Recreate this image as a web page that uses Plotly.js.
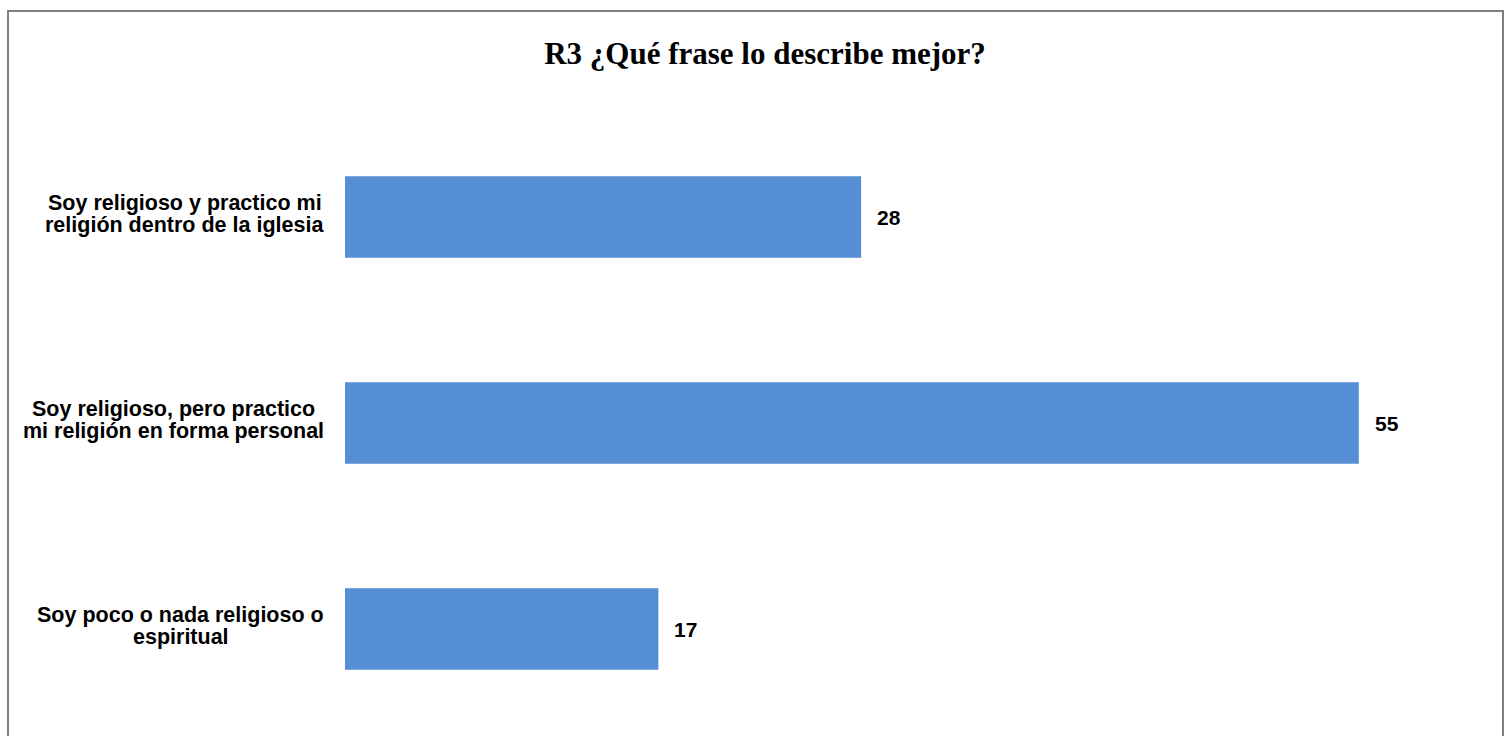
<!DOCTYPE html>
<html>
<head>
<meta charset="utf-8">
<script src="https://cdn.plot.ly/plotly-3.0.1.min.js"></script>
<style>
  html, body { margin: 0; padding: 0; background: #ffffff; }
  #wrap { position: relative; width: 1506px; height: 736px; overflow: hidden; }
  #chart { position: absolute; left: 0; top: 0; width: 1506px; height: 736px; }
  #frame { position: absolute; left: 7px; top: 10px; width: 1497px; height: 740px;
           border: 2px solid #808080; pointer-events: none; box-sizing: border-box; }
</style>
</head>
<body>
<div id="wrap">
  <div id="chart"></div>
  <div id="frame"></div>
</div>
<script>
const titleText = "R3 ¿Qué frase lo describe mejor?";
const categories = [
  "Soy religioso y practico mi<br>religión dentro de la iglesia",
  "Soy religioso, pero practico<br>mi religión en forma personal",
  "Soy poco o nada religioso o<br>espiritual"
];
const values = [28, 55, 17];
const barColor = "#558ED5";

const trace = {
  type: "bar",
  orientation: "h",
  x: values,
  y: categories,
  marker: { color: barColor, line: { width: 0 } },
  width: 0.395,
  hoverinfo: "none"
};

const labelSize = 21.5;
const labelFamily = "Liberation Sans, Arial, sans-serif";
const labelFont = { family: labelFamily, size: labelSize, color: "#000000", weight: "bold" };
const lineGap = 21.5;
const labelPad = 21;
const labelLift = 3;

const ctx = document.createElement("canvas").getContext("2d");
ctx.font = "bold " + labelSize + "px " + labelFamily;

const annotations = [];
categories.forEach((c, i) => {
  const lines = c.split("<br>");
  const w = Math.max(...lines.map(l => ctx.measureText(l).width));
  lines.forEach((ln, k) => {
    const off = (k - (lines.length - 1) / 2) * lineGap;
    annotations.push({
      xref: "paper", yref: "y", x: 0, y: c, xanchor: "center", yanchor: "middle",
      xshift: -labelPad - w / 2, yshift: -off + labelLift, text: ln, showarrow: false,
      font: labelFont
    });
  });
  annotations.push({
    xref: "x", yref: "y", x: values[i], y: c, xanchor: "left", yanchor: "middle",
    xshift: 14, text: "<b>" + values[i] + "</b>", showarrow: false,
    font: { family: "Liberation Sans Narrow, Arial Narrow, Liberation Sans, sans-serif", size: 21, color: "#000000" }
  });
});

const layout = {
  width: 1506, height: 736,
  margin: { l: 345, r: 55, t: 114, b: 4 },
  paper_bgcolor: "#ffffff", plot_bgcolor: "#ffffff",
  title: {
    text: "<b>" + titleText + "</b>",
    font: { family: "Liberation Serif, Times New Roman, serif", size: 31, color: "#000000" },
    xref: "container", x: 0.508, xanchor: "center",
    yref: "container", y: 0.928, yanchor: "middle"
  },
  xaxis: { range: [0, 60], visible: false, showgrid: false, zeroline: false, fixedrange: true },
  yaxis: {
    type: "category", categoryorder: "array", categoryarray: categories,
    autorange: "reversed", showticklabels: false, showgrid: false, zeroline: false,
    showline: false, ticks: "", fixedrange: true
  },
  showlegend: false,
  annotations: annotations
};

Plotly.newPlot("chart", [trace], layout, { displayModeBar: false, staticPlot: true });
</script>
</body>
</html>
